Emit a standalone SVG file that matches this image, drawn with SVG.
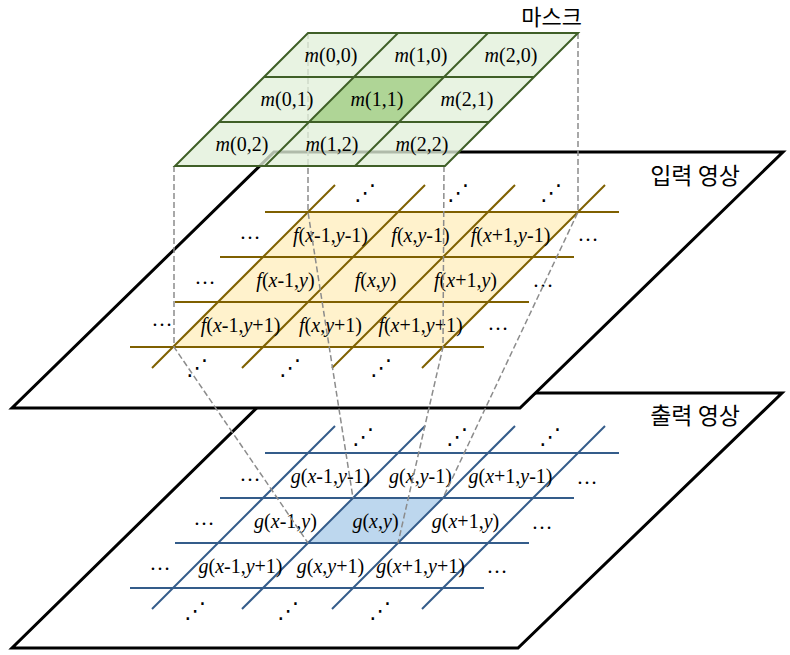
<svg xmlns="http://www.w3.org/2000/svg" width="790" height="655" viewBox="0 0 790 655">
<style>
.plane{fill:#fff;stroke:#000;stroke-width:3;stroke-linejoin:miter}
.fl{stroke:#7f6000;stroke-width:2;fill:none}
.gl{stroke:#345c8a;stroke-width:2;fill:none}
.ml{stroke:#3f5f27;stroke-width:2;fill:none}
.dash{stroke:#8c8c8c;stroke-width:1.5;fill:none;stroke-dasharray:6 3}
.lb{font-family:"Liberation Serif","Times New Roman",serif;font-size:20px;fill:#000;text-anchor:middle}
.i{font-style:italic}
.el{font-family:"Liberation Serif",serif;font-size:21px;fill:#000;text-anchor:middle}
.dg{font-family:"DejaVu Sans",sans-serif;font-size:22px;fill:#000;text-anchor:middle}
.ko{font-family:"Noto Sans CJK KR","Noto Sans",sans-serif;font-size:23px;fill:#000;text-anchor:end}
</style>

<g id="output-plane">
<polygon class="plane" points="272,393 782,393 518,648 12,648"/>
<text class="ko" x="740" y="424">출력 영상</text>
<polygon points="353,498 443,498 398,543 308,543" fill="#bdd7ee"/>
<g class="gl">
<line x1="265" y1="453" x2="619" y2="453"/>
<line x1="220" y1="498" x2="574" y2="498"/>
<line x1="175" y1="543" x2="529" y2="543"/>
<line x1="130" y1="588" x2="484" y2="588"/>
<line x1="335" y1="426" x2="152" y2="609"/>
<line x1="425" y1="426" x2="242" y2="609"/>
<line x1="515" y1="426" x2="332" y2="609"/>
<line x1="605" y1="426" x2="422" y2="609"/>
</g>
<text class="lb" x="330.5" y="482.5"><tspan class="i">g</tspan>(<tspan class="i">x</tspan>-1,<tspan class="i">y</tspan>-1)</text>
<text class="lb" x="420.5" y="482.5"><tspan class="i">g</tspan>(<tspan class="i">x</tspan>,<tspan class="i">y</tspan>-1)</text>
<text class="lb" x="510.5" y="482.5"><tspan class="i">g</tspan>(<tspan class="i">x</tspan>+1,<tspan class="i">y</tspan>-1)</text>
<text class="lb" x="285.5" y="527.5"><tspan class="i">g</tspan>(<tspan class="i">x</tspan>-1,<tspan class="i">y</tspan>)</text>
<text class="lb" x="375.5" y="527.5"><tspan class="i">g</tspan>(<tspan class="i">x</tspan>,<tspan class="i">y</tspan>)</text>
<text class="lb" x="465.5" y="527.5"><tspan class="i">g</tspan>(<tspan class="i">x</tspan>+1,<tspan class="i">y</tspan>)</text>
<text class="lb" x="240.5" y="572.5"><tspan class="i">g</tspan>(<tspan class="i">x</tspan>-1,<tspan class="i">y</tspan>+1)</text>
<text class="lb" x="330.5" y="572.5"><tspan class="i">g</tspan>(<tspan class="i">x</tspan>,<tspan class="i">y</tspan>+1)</text>
<text class="lb" x="420.5" y="572.5"><tspan class="i">g</tspan>(<tspan class="i">x</tspan>+1,<tspan class="i">y</tspan>+1)</text>
<text class="el" x="250" y="481">…</text>
<text class="el" x="587" y="484">…</text>
<text class="el" x="204" y="525">…</text>
<text class="el" x="542" y="529">…</text>
<text class="el" x="160" y="570">…</text>
<text class="el" x="497" y="573">…</text>
<text class="dg" x="363" y="444">⋰</text>
<text class="dg" x="457" y="444">⋰</text>
<text class="dg" x="550" y="444">⋰</text>
<text class="dg" x="195" y="618">⋰</text>
<text class="dg" x="288" y="618">⋰</text>
<text class="dg" x="380" y="618">⋰</text>
</g>

<g id="input-plane">
<polygon class="plane" points="274,152 783,152 520,408 12,408"/>
<text class="ko" x="740" y="184">입력 영상</text>
<polygon points="308,212 578,212 443,347 173,347" fill="#fff2cc"/>
<g class="fl">
<line x1="265" y1="212" x2="619" y2="212"/>
<line x1="220" y1="257" x2="574" y2="257"/>
<line x1="175" y1="302" x2="529" y2="302"/>
<line x1="130" y1="347" x2="484" y2="347"/>
<line x1="335" y1="185" x2="152" y2="368"/>
<line x1="425" y1="185" x2="242" y2="368"/>
<line x1="515" y1="185" x2="332" y2="368"/>
<line x1="605" y1="185" x2="422" y2="368"/>
</g>
<text class="lb" x="330.5" y="241.5"><tspan class="i">f</tspan>(<tspan class="i">x</tspan>-1,<tspan class="i">y</tspan>-1)</text>
<text class="lb" x="420.5" y="241.5"><tspan class="i">f</tspan>(<tspan class="i">x</tspan>,<tspan class="i">y</tspan>-1)</text>
<text class="lb" x="510.5" y="241.5"><tspan class="i">f</tspan>(<tspan class="i">x</tspan>+1,<tspan class="i">y</tspan>-1)</text>
<text class="lb" x="285.5" y="286.5"><tspan class="i">f</tspan>(<tspan class="i">x</tspan>-1,<tspan class="i">y</tspan>)</text>
<text class="lb" x="375.5" y="286.5"><tspan class="i">f</tspan>(<tspan class="i">x</tspan>,<tspan class="i">y</tspan>)</text>
<text class="lb" x="465.5" y="286.5"><tspan class="i">f</tspan>(<tspan class="i">x</tspan>+1,<tspan class="i">y</tspan>)</text>
<text class="lb" x="240.5" y="331.5"><tspan class="i">f</tspan>(<tspan class="i">x</tspan>-1,<tspan class="i">y</tspan>+1)</text>
<text class="lb" x="330.5" y="331.5"><tspan class="i">f</tspan>(<tspan class="i">x</tspan>,<tspan class="i">y</tspan>+1)</text>
<text class="lb" x="420.5" y="331.5"><tspan class="i">f</tspan>(<tspan class="i">x</tspan>+1,<tspan class="i">y</tspan>+1)</text>
<text class="el" x="250" y="239">…</text>
<text class="el" x="588" y="241">…</text>
<text class="el" x="205" y="284">…</text>
<text class="el" x="543" y="287">…</text>
<text class="el" x="162" y="326">…</text>
<text class="el" x="498" y="330">…</text>
<text class="dg" x="365" y="200">⋰</text>
<text class="dg" x="458" y="200">⋰</text>
<text class="dg" x="551" y="200">⋰</text>
<text class="dg" x="197" y="375">⋰</text>
<text class="dg" x="290" y="375">⋰</text>
<text class="dg" x="381" y="375">⋰</text>
</g>

<g id="connectors" class="dash">
<polyline points="308,33 308,212 353,498"/>
<polyline points="578,33 578,212 443,498"/>
<polyline points="174,166 174,347 308,543"/>
<polyline points="444,166 443,347 398,543"/>
</g>

<g id="mask">
<polygon points="308,33 578,33 445,166 175,166" fill="#e2efda" fill-opacity="0.78"/>
<polygon points="354,77 444,77 399,122 309,122" fill="#a9d18e" fill-opacity="0.9"/>
<g class="ml">
<polygon points="308,33 578,33 445,166 175,166"/>
<line x1="264" y1="77" x2="534" y2="77"/>
<line x1="219" y1="122" x2="489" y2="122"/>
<line x1="398" y1="33" x2="265" y2="166"/>
<line x1="488" y1="33" x2="355" y2="166"/>
</g>
<text class="lb" x="331" y="62"><tspan class="i">m</tspan>(0,0)</text>
<text class="lb" x="421" y="62"><tspan class="i">m</tspan>(1,0)</text>
<text class="lb" x="511" y="62"><tspan class="i">m</tspan>(2,0)</text>
<text class="lb" x="287" y="106"><tspan class="i">m</tspan>(0,1)</text>
<text class="lb" x="377" y="106"><tspan class="i">m</tspan>(1,1)</text>
<text class="lb" x="467" y="106"><tspan class="i">m</tspan>(2,1)</text>
<text class="lb" x="242" y="151"><tspan class="i">m</tspan>(0,2)</text>
<text class="lb" x="332" y="151"><tspan class="i">m</tspan>(1,2)</text>
<text class="lb" x="422" y="151"><tspan class="i">m</tspan>(2,2)</text>
<text class="ko" x="582" y="25" style="font-size:22px">마스크</text>
</g>
</svg>
